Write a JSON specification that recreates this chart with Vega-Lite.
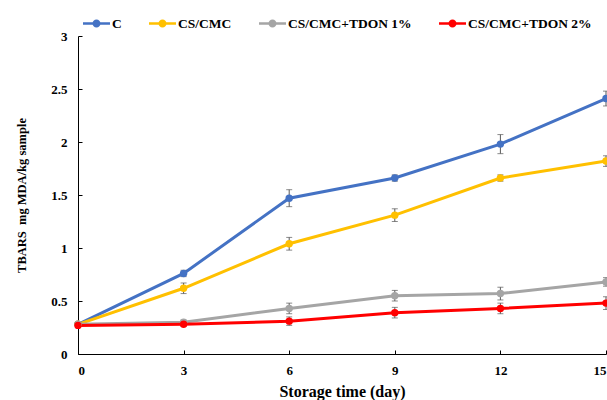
{
  "$schema": "https://vega.github.io/schema/vega-lite/v6.json",
  "width": 528,
  "height": 318,
  "autosize": {"type": "none"},
  "padding": {"left": 78, "top": 36, "right": 1, "bottom": 46},
  "background": "white",
  "config": {
    "view": {"stroke": null},
    "font": "Liberation Serif",
    "axis": {"grid": false, "domainColor": "black", "tickColor": "black", "labelColor": "black", "titleColor": "black", "labelFont": "Liberation Serif", "titleFont": "Liberation Serif", "labelFontWeight": "bold", "titleFontWeight": "bold", "labelFontSize": 13, "titleFontSize": 14}
  },
  "data": {
    "values": [
      {"series": "C", "day": 0, "value": 0.28, "err": 0.02},
      {"series": "C", "day": 3, "value": 0.76, "err": 0.03},
      {"series": "C", "day": 6, "value": 1.47, "err": 0.08},
      {"series": "C", "day": 9, "value": 1.66, "err": 0.03},
      {"series": "C", "day": 12, "value": 1.98, "err": 0.09},
      {"series": "C", "day": 15, "value": 2.41, "err": 0.07},
      {"series": "CS/CMC", "day": 0, "value": 0.28, "err": 0.02},
      {"series": "CS/CMC", "day": 3, "value": 0.62, "err": 0.05},
      {"series": "CS/CMC", "day": 6, "value": 1.04, "err": 0.06},
      {"series": "CS/CMC", "day": 9, "value": 1.31, "err": 0.06},
      {"series": "CS/CMC", "day": 12, "value": 1.66, "err": 0.03},
      {"series": "CS/CMC", "day": 15, "value": 1.82, "err": 0.05},
      {"series": "CS/CMC+TDON 1%", "day": 0, "value": 0.28, "err": 0.02},
      {"series": "CS/CMC+TDON 1%", "day": 3, "value": 0.30, "err": 0.02},
      {"series": "CS/CMC+TDON 1%", "day": 6, "value": 0.43, "err": 0.05},
      {"series": "CS/CMC+TDON 1%", "day": 9, "value": 0.55, "err": 0.05},
      {"series": "CS/CMC+TDON 1%", "day": 12, "value": 0.57, "err": 0.06},
      {"series": "CS/CMC+TDON 1%", "day": 15, "value": 0.68, "err": 0.04},
      {"series": "CS/CMC+TDON 2%", "day": 0, "value": 0.27, "err": 0.02},
      {"series": "CS/CMC+TDON 2%", "day": 3, "value": 0.28, "err": 0.02},
      {"series": "CS/CMC+TDON 2%", "day": 6, "value": 0.31, "err": 0.04},
      {"series": "CS/CMC+TDON 2%", "day": 9, "value": 0.39, "err": 0.05},
      {"series": "CS/CMC+TDON 2%", "day": 12, "value": 0.43, "err": 0.05},
      {"series": "CS/CMC+TDON 2%", "day": 15, "value": 0.48, "err": 0.06}
    ]
  },
  "encoding": {
    "x": {"field": "day", "type": "quantitative", "scale": {"domain": [0, 15], "nice": false}, "axis": {"values": [0, 3, 6, 9, 12, 15], "title": "Storage time (day)", "titleFontSize": 16, "tickSize": -4, "labelPadding": 14, "titlePadding": 6}},
    "y": {"field": "value", "type": "quantitative", "scale": {"domain": [0, 3], "nice": false}, "axis": {"values": [0, 0.5, 1, 1.5, 2, 2.5, 3], "format": "~g", "title": "TBARS\u00a0 mg MDA/kg sample", "titleFontSize": 12.5, "tickSize": -4, "labelPadding": 15, "titlePadding": 22}}
  },
  "layer": [
    {
      "mark": {"type": "line", "strokeWidth": 3},
      "encoding": {
        "color": {"field": "series", "type": "nominal", "sort": ["C", "CS/CMC", "CS/CMC+TDON 1%", "CS/CMC+TDON 2%"],
          "scale": {"domain": ["C", "CS/CMC", "CS/CMC+TDON 1%", "CS/CMC+TDON 2%"], "range": ["#4472C4", "#FFC000", "#A5A5A5", "#FF0000"]},
          "legend": {"orient": "none", "legendX": 5, "legendY": -26, "direction": "horizontal", "title": null, "labelFont": "Liberation Serif", "labelFontWeight": "bold", "labelFontSize": 13.5, "labelColor": "black", "symbolType": "M-1,-0.1 L1,-0.1 L1,0.1 L-1,0.1 Z M0.3,0 A0.3,0.3 0 1,1 -0.3,0 A0.3,0.3 0 1,1 0.3,0 Z", "symbolSize": 729, "symbolStrokeWidth": 0, "symbolOpacity": 1, "columnPadding": 27, "labelOffset": 2}}
      }
    },
    {
      "mark": {"type": "errorbar", "ticks": {"size": 6, "color": "#595959"}, "rule": {"color": "#595959"}, "thickness": 1},
      "encoding": {
        "y": {"field": "value", "type": "quantitative"},
        "yError": {"field": "err"},
        "detail": {"field": "series"}
      }
    },
    {
      "mark": {"type": "point", "filled": true, "size": 55, "opacity": 1},
      "encoding": {
        "color": {"field": "series", "type": "nominal", "legend": null}
      }
    }
  ]
}
